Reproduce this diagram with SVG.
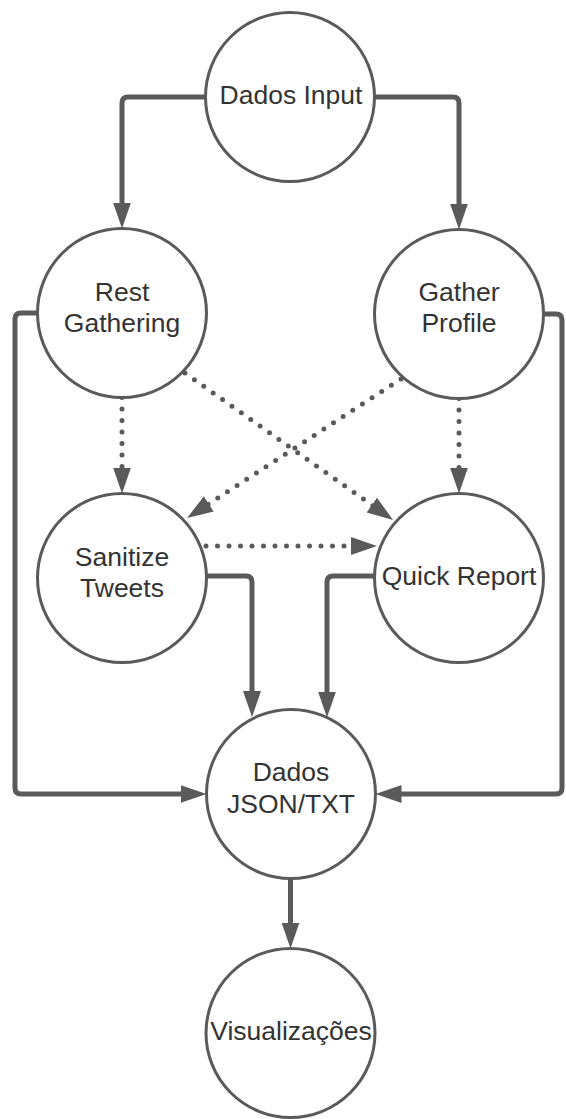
<svg xmlns="http://www.w3.org/2000/svg" width="566" height="1119" viewBox="0 0 566 1119">
<style>
.node circle{fill:#ffffff;stroke:#5a5a5a;stroke-width:3}
.node text{font-family:"Liberation Sans",Arial,sans-serif;font-size:26.5px;fill:#333333;text-anchor:middle}
.solid{fill:none;stroke:#5a5a5a;stroke-width:5}
.dot{fill:none;stroke:#5a5a5a;stroke-width:5;stroke-linecap:round;stroke-dasharray:0 11.5}
</style>
<defs>
<marker id="ah" markerUnits="userSpaceOnUse" markerWidth="28" markerHeight="20" refX="6" refY="9" orient="auto">
<path d="M0,0 L26,9 L0,18 z" fill="#5a5a5a"/>
</marker>
</defs>
<rect width="566" height="1119" fill="#ffffff"/>
<g id="connectors">
<path class="solid" d="M205.5,97 H128 Q122,97 122,103 V208.5" marker-end="url(#ah)"/>
<path class="solid" d="M374.5,97 H453 Q459,97 459,103 V209.5" marker-end="url(#ah)"/>
<path class="solid" d="M37.5,313 H21 Q15,313 15,319 V788 Q15,794 21,794 H186.5" marker-end="url(#ah)"/>
<path class="solid" d="M543.5,314 H556 Q562,314 562,320 V788 Q562,794 556,794 H395.5" marker-end="url(#ah)"/>
<path class="solid" d="M206.5,576 H246 Q252,576 252,582 V697" marker-end="url(#ah)"/>
<path class="solid" d="M374.5,576 H333 Q327,576 327,582 V697.5" marker-end="url(#ah)"/>
<path class="solid" d="M290.5,878.5 V928.5" marker-end="url(#ah)"/>
<path class="dot" d="M122,397.5 V473.5" marker-end="url(#ah)"/>
<path class="dot" d="M459,398.5 V473.5" marker-end="url(#ah)"/>
<path class="dot" d="M206,546 H357" marker-end="url(#ah)"/>
<path class="dot" d="M185,373 L376.7,508.5" marker-end="url(#ah)"/>
<path class="dot" d="M401,379 L203.8,507.1" marker-end="url(#ah)"/>
</g>
<g id="n-input" class="node"><circle cx="290" cy="97" r="84.5"/><text x="291" y="104">Dados Input</text></g>
<g id="n-rest" class="node"><circle cx="122" cy="313" r="84.5"/><text x="122" y="301">Rest</text><text x="122" y="332">Gathering</text></g>
<g id="n-gather" class="node"><circle cx="459" cy="314" r="84.5"/><text x="459" y="301">Gather</text><text x="459" y="332">Profile</text></g>
<g id="n-sanitize" class="node"><circle cx="122" cy="578" r="84.5"/><text x="122" y="566">Sanitize</text><text x="122" y="597">Tweets</text></g>
<g id="n-quick" class="node"><circle cx="459" cy="578" r="84.5"/><text x="459" y="585">Quick Report</text></g>
<g id="n-json" class="node"><circle cx="291" cy="794" r="84.5"/><text x="291" y="781">Dados</text><text x="291" y="813">JSON/TXT</text></g>
<g id="n-vis" class="node"><circle cx="290.5" cy="1033" r="84.5"/><text x="291" y="1040">Visualizações</text></g>
</svg>
